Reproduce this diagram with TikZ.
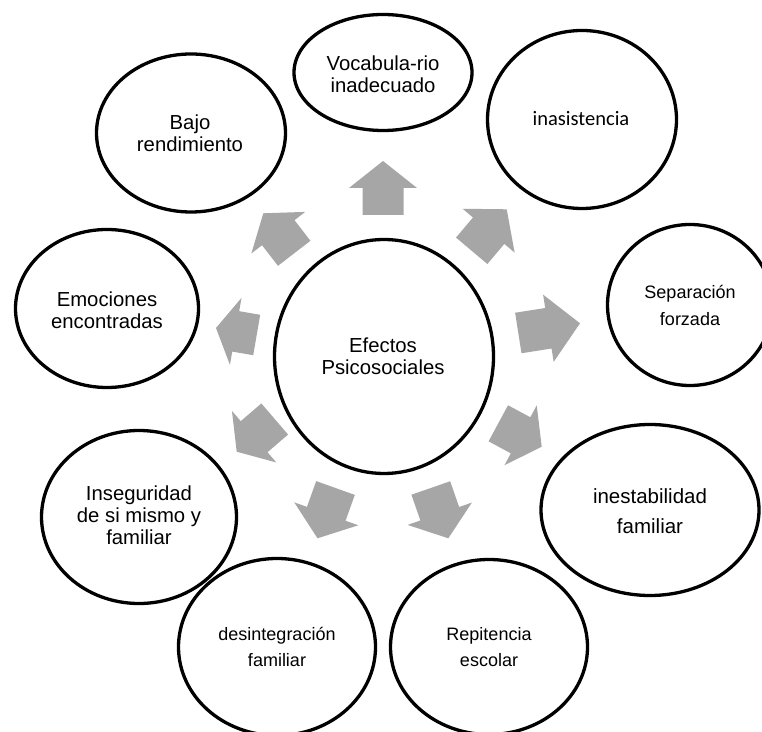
\documentclass[tikz,border=0pt]{standalone}
\usepackage{fontspec}
\setmainfont{Liberation Sans}
\newfontfamily\carlitofont{Carlito}
\usetikzlibrary{shapes.geometric,calc}
\definecolor{arrgray}{RGB}{166,166,166}
\newcommand\blockarrow[2]{%
  \coordinate (#1h) at ($(#1e)!#2!(#1s)$);
  \fill[arrgray] ($(#1s)!20.5pt!90:(#1e)$) -- ($(#1h)!20.5pt!90:(#1e)$) -- ($(#1h)!34pt!90:(#1e)$) -- (#1e) -- ($(#1h)!34pt!-90:(#1e)$) -- ($(#1h)!20.5pt!-90:(#1e)$) -- ($(#1s)!20.5pt!-90:(#1e)$) -- cycle;}
\begin{document}
\begin{tikzpicture}[x=1pt,y=1pt,
  bubble/.style={draw=black, line width=3.3pt, ellipse, inner sep=0pt},
  bigtxt/.style={align=center, font=\fontsize{20.3}{22}\selectfont, inner sep=0pt},
  midtxt/.style={align=center, font=\fontsize{20.5}{29.5}\selectfont, inner sep=0pt},
  smalltxt/.style={align=center, font=\fontsize{18}{26.5}\selectfont, inner sep=0pt},
  calitxt/.style={align=center, font=\carlitofont\fontsize{20.5}{24}\selectfont, inner sep=0pt}
]
\useasboundingbox (0,0) rectangle (762,731);
\clip (0,0) rectangle (762,731);
\fill[white] (0,0) rectangle (762,731);

% arrows: tail (s) and tip (e)
\coordinate (a1s) at (383,516);   \coordinate (a1e) at (383,570);
\coordinate (a2s) at (471.7,480.2); \coordinate (a2e) at (506.7,521.7);
\coordinate (a3s) at (518.3,398); \coordinate (a3e) at (580,407.7);
\coordinate (a4s) at (498.3,307.7); \coordinate (a4e) at (541.7,284.3);
\coordinate (a5s) at (430.8,243); \coordinate (a5e) at (448.3,192.7);
\coordinate (a6s) at (335.5,243); \coordinate (a6e) at (317.5,192.7);
\coordinate (a7s) at (274.7,312); \coordinate (a7e) at (236.7,279.3);
\coordinate (a8s) at (256.7,396); \coordinate (a8e) at (216,403);
\coordinate (a9s) at (294.2,477.7); \coordinate (a9e) at (263.3,517.7);
\blockarrow{a1}{27pt}
\blockarrow{a2}{28pt}
\blockarrow{a3}{32pt}
\blockarrow{a4}{24pt}
\blockarrow{a5}{26pt}
\blockarrow{a6}{26pt}
\blockarrow{a7}{23pt}
\blockarrow{a8}{20pt}
\blockarrow{a9}{24.5pt}

% ellipses
\node[bubble, minimum width=219pt, minimum height=234pt] (center) at (384,374.5) {};
\node[bubble, minimum width=178pt, minimum height=116pt] (voc) at (383,658.5) {};
\node[bubble, minimum width=189pt, minimum height=178pt] (inas) at (582,611.5) {};
\node[bubble, minimum width=165pt, minimum height=161pt] (sep) at (690,426) {};
\node[bubble, minimum width=218pt, minimum height=171pt] (inest) at (650,221) {};
\node[bubble, minimum width=197pt, minimum height=175pt] (rep) at (489,84) {};
\node[bubble, minimum width=197pt, minimum height=177pt] (des) at (277,84) {};
\node[bubble, minimum width=195pt, minimum height=173pt] (inseg) at (139,214) {};
\node[bubble, minimum width=183pt, minimum height=158pt] (emo) at (107,422.5) {};
\node[bubble, minimum width=189pt, minimum height=158pt] (bajo) at (191,598) {};

% texts
\node[bigtxt] (centert) at (383,375) {Efectos\\Psicosociales};
\node[bigtxt] (voct) at (383,657) {Vocabula-rio\\inadecuado};
\node[calitxt] (inast) at (581,612) {inasistencia};
\node[smalltxt] (sept) at (690,425.5) {Separación\\forzada};
\node[midtxt] (inestt) at (650,220) {inestabilidad\\familiar};
\node[smalltxt] (rept) at (489,84) {Repitencia\\escolar};
\node[smalltxt] (dest) at (277,84) {desintegración\\familiar};
\node[bigtxt] (insegt) at (139,216) {Inseguridad\\de si mismo y\\familiar};
\node[bigtxt] (emot) at (107,421) {Emociones\\encontradas};
\node[bigtxt] (bajot) at (190,598) {Bajo\\rendimiento};
\end{tikzpicture}
\end{document}
